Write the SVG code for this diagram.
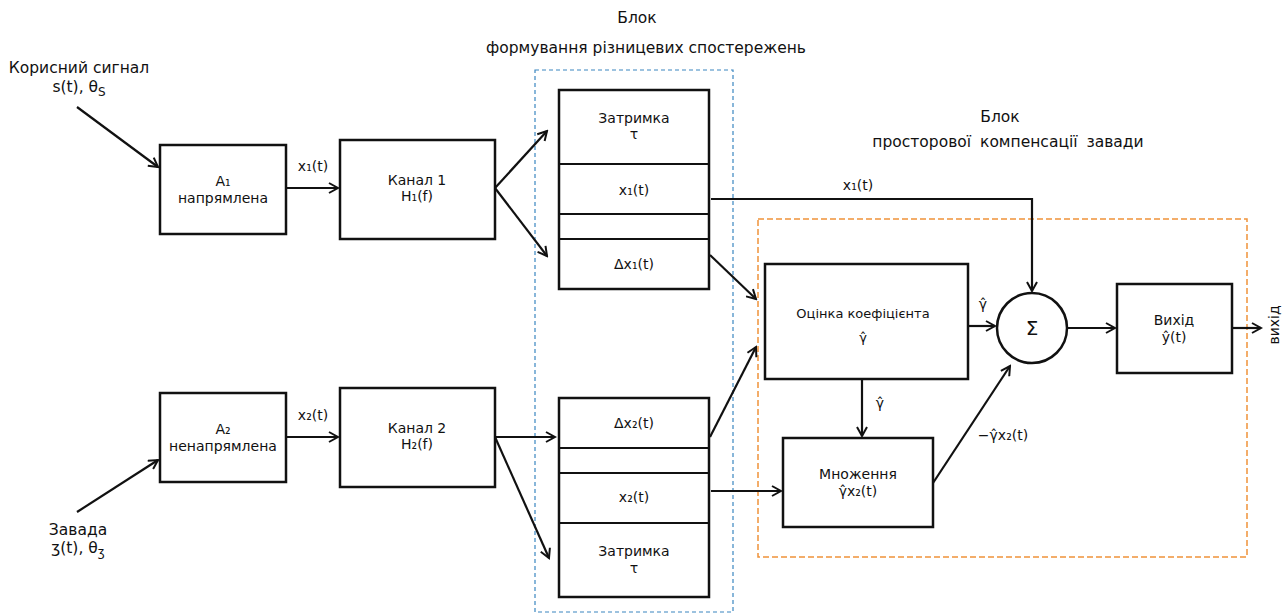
<svg xmlns="http://www.w3.org/2000/svg" width="1287" height="616" viewBox="0 0 1287 616">
<style>
text{font-family:"DejaVu Sans","Noto Sans",sans-serif;font-size:15.5px;fill:#111;text-anchor:middle}
.s{font-size:14px}
.sm{font-size:13px}
.sig{font-size:20px}
.box{fill:#fff;stroke:#111;stroke-width:2.5}
.c{stroke:#111;stroke-width:2.2;fill:none}
</style>
<defs>
<marker id="ah" viewBox="0 0 12 12" refX="10" refY="6" markerWidth="12" markerHeight="12" markerUnits="userSpaceOnUse" orient="auto">
<path d="M1,1 L10,6 L1,11" fill="none" stroke="#111" stroke-width="2"/>
</marker>
</defs>
<rect width="1287" height="616" fill="#fff"/>

<g id="group-diff">
<rect x="535" y="70" width="198" height="542" fill="none" stroke="#3a86c0" stroke-width="1.2" stroke-dasharray="4,3"/>
<text x="637" y="23">Блок</text>
<text x="646" y="53">формування різницевих спостережень</text>
</g>
<g id="group-comp">
<rect x="758" y="219" width="489" height="338" fill="none" stroke="#f0923a" stroke-width="1.5" stroke-dasharray="6,3"/>
<text x="1000" y="122">Блок</text>
<text x="1008" y="147" word-spacing="4">просторової компенсації завади</text>
</g>

<g id="labels-in">
<text x="79" y="73">Корисний сигнал</text>
<text x="79" y="92">s(t), θ<tspan font-size="12" dy="4">S</tspan></text>
<text x="78" y="535">Завада</text>
<text x="78" y="553">ʒ(t), θ<tspan font-size="12" dy="3">ʒ</tspan></text>
</g>

<g id="a1"><rect class="box" x="160" y="145" width="126" height="89"/>
<text class="s" x="223" y="186">A₁</text><text class="s" x="223" y="203">напрямлена</text></g>
<g id="a2"><rect class="box" x="160" y="393" width="126" height="89"/>
<text class="s" x="223" y="434">A₂</text><text class="s" x="223" y="451">ненапрямлена</text></g>
<g id="ch1"><rect class="box" x="340" y="140" width="155" height="99"/>
<text class="s" x="417" y="185">Канал 1</text><text class="s" x="417" y="201">H₁(f)</text></g>
<g id="ch2"><rect class="box" x="340" y="388" width="155" height="99"/>
<text class="s" x="417" y="433">Канал 2</text><text class="s" x="417" y="449">H₂(f)</text></g>

<g id="stack1">
<rect class="box" x="559" y="90" width="150" height="199"/>
<line class="c" x1="559" y1="164" x2="709" y2="164"/>
<line class="c" x1="559" y1="214" x2="709" y2="214"/>
<line class="c" x1="559" y1="239" x2="709" y2="239"/>
<text class="s" x="634" y="123">Затримка</text><text class="s" x="634" y="139">τ</text>
<text class="s" x="634" y="195">x₁(t)</text>
<text class="s" x="634" y="269">Δx₁(t)</text>
</g>
<g id="stack2">
<rect class="box" x="559" y="398" width="150" height="199"/>
<line class="c" x1="559" y1="448" x2="709" y2="448"/>
<line class="c" x1="559" y1="473" x2="709" y2="473"/>
<line class="c" x1="559" y1="523" x2="709" y2="523"/>
<text class="s" x="634" y="428">Δx₂(t)</text>
<text class="s" x="634" y="502">x₂(t)</text>
<text class="s" x="634" y="556">Затримка</text><text class="s" x="634" y="573">τ</text>
</g>

<g id="est"><rect class="box" x="765" y="264" width="203" height="115"/>
<text class="sm" x="863" y="318">Оцінка коефіцієнта</text><text class="sm" x="863" y="342">γ̂</text></g>
<g id="mul"><rect class="box" x="783" y="438" width="150" height="89"/>
<text class="s" x="858" y="479">Множення</text><text class="s" x="858" y="496">γ̂x₂(t)</text></g>
<g id="sum"><circle cx="1032" cy="328" r="35" fill="#fff" stroke="#111" stroke-width="2.5"/>
<text class="sig" x="1032" y="335">Σ</text></g>
<g id="out"><rect class="box" x="1117" y="284" width="115" height="89"/>
<text class="s" x="1174" y="325">Вихід</text><text class="s" x="1174" y="342">ŷ(t)</text></g>

<g id="connectors">
<line class="c" x1="77" y1="107" x2="158" y2="167" marker-end="url(#ah)"/>
<line class="c" x1="77" y1="512" x2="158" y2="460" marker-end="url(#ah)"/>
<line class="c" x1="286" y1="188" x2="338" y2="188" marker-end="url(#ah)"/>
<line class="c" x1="286" y1="437" x2="338" y2="437" marker-end="url(#ah)"/>
<line class="c" x1="495" y1="188" x2="547" y2="131" marker-end="url(#ah)"/>
<line class="c" x1="495" y1="188" x2="547" y2="256" marker-end="url(#ah)"/>
<line class="c" x1="495" y1="437" x2="555" y2="437" marker-end="url(#ah)"/>
<line class="c" x1="495" y1="437" x2="549" y2="558" marker-end="url(#ah)"/>
<polyline class="c" points="711,199 1032,199 1032,291" stroke-width="1.8" marker-end="url(#ah)"/>
<line class="c" x1="710" y1="255" x2="756" y2="299" marker-end="url(#ah)"/>
<line class="c" x1="710" y1="437" x2="756" y2="347" marker-end="url(#ah)"/>
<line class="c" x1="711" y1="491" x2="781" y2="491" stroke-width="1.8" marker-end="url(#ah)"/>
<line class="c" x1="968" y1="326" x2="995" y2="326" marker-end="url(#ah)"/>
<line class="c" x1="862" y1="379" x2="862" y2="436" marker-end="url(#ah)"/>
<line class="c" x1="933" y1="483" x2="1010" y2="366" marker-end="url(#ah)"/>
<line class="c" x1="1068" y1="328" x2="1115" y2="328" marker-end="url(#ah)"/>
<line class="c" x1="1232" y1="328" x2="1261" y2="328" marker-end="url(#ah)"/>
<text class="s" x="313" y="171">x₁(t)</text>
<text class="s" x="313" y="420">x₂(t)</text>
<text class="s" x="858" y="190">x₁(t)</text>
<text class="s" x="983" y="309">γ̂</text>
<text class="s" x="880" y="408">γ̂</text>
<text class="s" x="1003" y="440">−γ̂x₂(t)</text>
<text class="s" transform="translate(1279,325) rotate(-90)">вихід</text>
</g>
</svg>
